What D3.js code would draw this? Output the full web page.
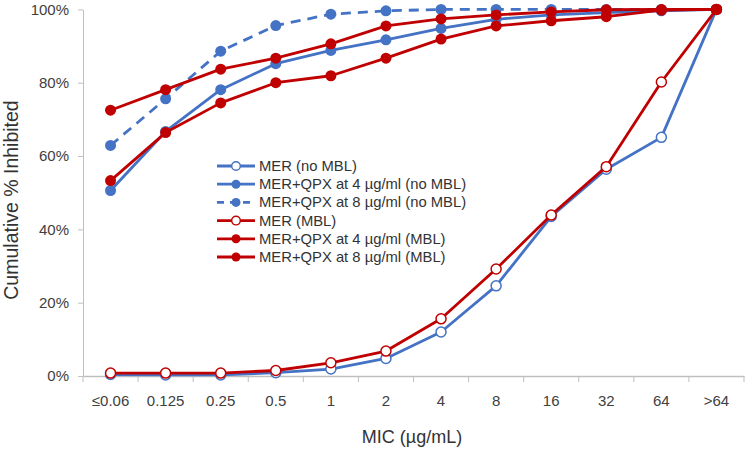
<!DOCTYPE html>
<html><head><meta charset="utf-8">
<script src="https://cdn.jsdelivr.net/npm/d3@7"></script>
<style>body{margin:0;background:#fff}svg{display:block}text{font-family:"Liberation Sans",Arial,sans-serif}</style>
</head><body>
<svg id="c" width="750" height="449"></svg>
<script>
const categories = ["≤0.06","0.125","0.25","0.5","1","2","4","8","16","32","64",">64"];
const merNoMBL      = [0.4,0.3,0.3,0.9,1.9,4.8,12,24.6,43.5,56.4,65.1,100];
const qpx4NoMBL     = [50.6,66.7,78.1,85.2,88.8,91.7,94.8,97.3,98.5,99.1,99.6,100];
const qpx8NoMBL     = [62.9,75.6,88.6,95.6,98.7,99.6,100,100,100,100,100,100];
const merMBL        = [0.8,0.8,0.8,1.5,3.6,6.8,15.6,29.2,43.9,57.1,80.2,100];
const qpx4MBL       = [53.3,66.4,74.5,80,81.9,86.7,91.9,95.5,96.9,98,99.8,100];
const qpx8MBL       = [72.5,78.1,83.7,86.7,90.6,95.5,97.4,98.5,99.3,99.9,100,100];
const yTicks = [0,20,40,60,80,100];
const seriesNames = ["MER (no MBL)","MER+QPX at 4 µg/ml (no MBL)","MER+QPX at 8 µg/ml (no MBL)","MER (MBL)","MER+QPX at 4 µg/ml (MBL)","MER+QPX at 8 µg/ml (MBL)"];

const BLUE="#4472C4", RED="#C00000";
const series = [
  {name:seriesNames[0], values:merNoMBL, color:BLUE, open:true, dash:null},
  {name:seriesNames[1], values:qpx4NoMBL, color:BLUE, open:false, dash:null},
  {name:seriesNames[2], values:qpx8NoMBL, color:BLUE, open:false, dash:"10,7"},
  {name:seriesNames[3], values:merMBL, color:RED, open:true, dash:null},
  {name:seriesNames[4], values:qpx4MBL, color:RED, open:false, dash:null},
  {name:seriesNames[5], values:qpx8MBL, color:RED, open:false, dash:null}
];

const svg = d3.select("#c");
const L=83, R=744, T=9.4, B=376;
const x = d3.scaleBand().domain(categories).range([L,R]);
const y = d3.scaleLinear().domain([0,100]).range([B,T]);
const AX="#BFBFBF", TXT="#404040";

// y axis
const ya = svg.append("g").attr("transform",`translate(${L},0)`)
  .call(d3.axisLeft(y).tickValues(yTicks).tickFormat(d=>d+"%").tickSize(5).tickSizeOuter(0));
ya.select(".domain").attr("stroke",AX).attr("stroke-width",1);
ya.selectAll(".tick line").attr("stroke",AX);
ya.selectAll(".tick text").attr("font-size",15).attr("fill",TXT).attr("x",-14)
  .attr("font-family",'"Liberation Sans",Arial,sans-serif');

// x axis
const xa = svg.append("g").attr("transform",`translate(0,${B})`)
  .call(d3.axisBottom(x).tickSize(0).tickSizeOuter(0));
xa.select(".domain").attr("stroke",AX).attr("stroke-width",1.3);
xa.selectAll(".tick text").attr("font-size",15).attr("fill",TXT).attr("dy","1.05em").attr("y",14)
  .attr("font-family",'"Liberation Sans",Arial,sans-serif');
const bounds = categories.map(c=>x(c)).concat([R]);
svg.append("g").selectAll("line").data(bounds).join("line")
  .attr("x1",d=>d).attr("x2",d=>d).attr("y1",B).attr("y2",B+6)
  .attr("stroke",AX).attr("stroke-width",1);

// titles
svg.append("text").attr("transform","translate(13,200) rotate(-90)").attr("text-anchor","middle")
  .attr("dominant-baseline","middle").attr("font-size",19.5).attr("fill","#333").text("Cumulative % Inhibited");
svg.append("text").attr("x",412).attr("y",443).attr("text-anchor","middle")
  .attr("font-size",18).attr("fill","#333").text("MIC (µg/mL)");

// series
const cx = c=>x(c)+x.bandwidth()/2;
const line = d3.line().x((d,i)=>cx(categories[i])).y(d=>y(d));
series.forEach(s=>{
  const g = svg.append("g");
  g.append("path").attr("d",line(s.values)).attr("fill","none").attr("stroke",s.color)
    .attr("stroke-width",2.8).attr("stroke-dasharray",s.dash).attr("stroke-linejoin","round");
  g.selectAll("circle").data(s.values).join("circle")
    .attr("cx",(d,i)=>cx(categories[i])).attr("cy",d=>y(d))
    .attr("r",s.open?5:5.5)
    .attr("fill",s.open?"#fff":s.color).attr("stroke",s.color).attr("stroke-width",s.open?1.5:0);
});

// legend
const lg = svg.append("g");
series.forEach((s,i)=>{
  const yy = 166 + i*18.2;
  lg.append("line").attr("x1",217).attr("x2",255).attr("y1",yy).attr("y2",yy)
    .attr("stroke",s.color).attr("stroke-width",2.8).attr("stroke-dasharray",s.dash?"7,6":null);
  lg.append("circle").attr("cx",236).attr("cy",yy).attr("r",s.open?4.3:4.5)
    .attr("fill",s.open?"#fff":s.color).attr("stroke",s.color).attr("stroke-width",s.open?1.4:0);
  lg.append("text").attr("x",259).attr("y",yy).attr("dominant-baseline","central")
    .attr("font-size",14.8).attr("fill","#333").text(s.name);
});
</script>
</body></html>
